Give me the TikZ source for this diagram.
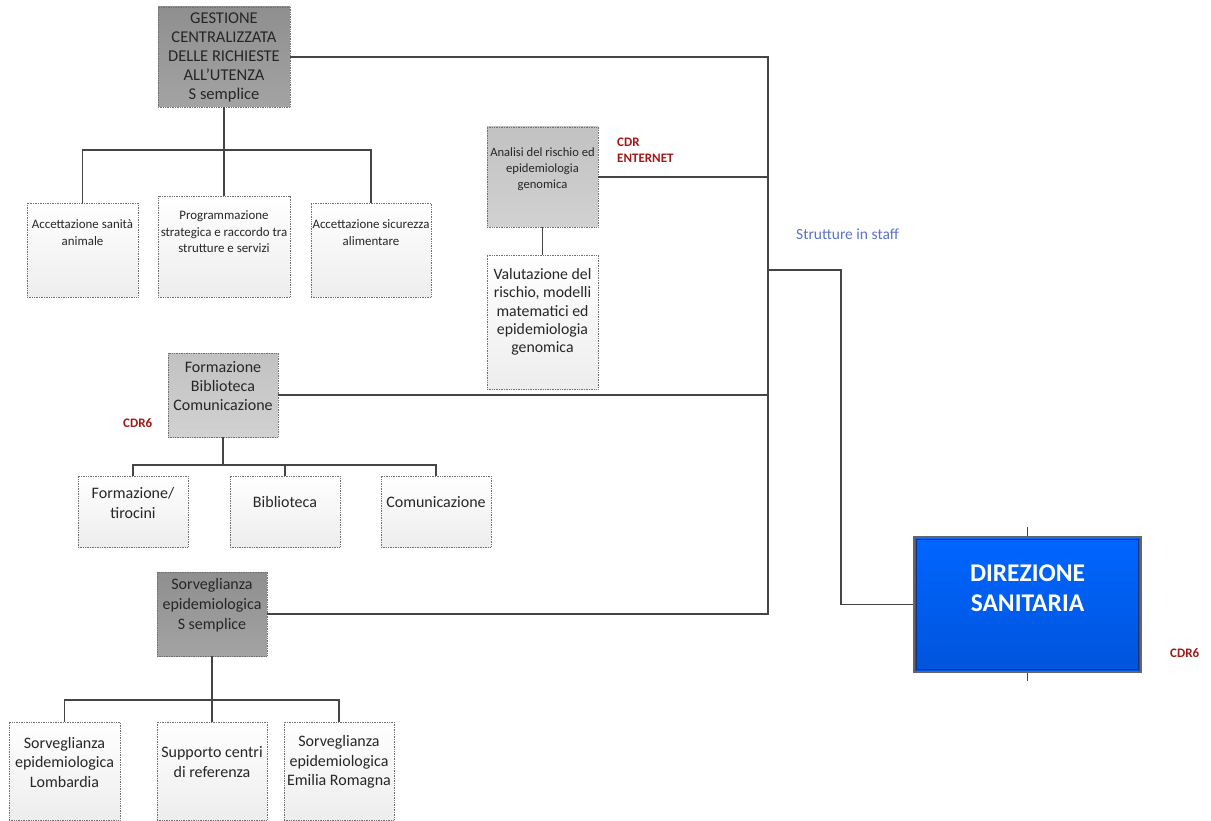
\documentclass[tikz,border=0pt]{standalone}
\usepackage{fontspec}
\setmainfont{Carlito}
\usetikzlibrary{calc}
\definecolor{conn}{HTML}{454545}
\definecolor{cdr}{HTML}{A01818}
\definecolor{staff}{HTML}{5B72C8}
\definecolor{bordo}{HTML}{707070}
\definecolor{dirtop}{HTML}{0066FF}
\definecolor{dirbot}{HTML}{0054DC}
\definecolor{dirin}{HTML}{143282}
\tikzset{
  conn/.style={draw=conn, line width=1.6pt},
  boxbase/.style={draw=bordo, densely dotted, line width=0.7pt, rectangle, inner sep=0pt},
  darkbox/.style={boxbase, top color=black!44, bottom color=black!36},
  lightbox/.style={boxbase, top color=black!24, bottom color=black!18},
  childbox/.style={boxbase, top color=white, bottom color=black!7},
  txt/.style={align=center, text=black!85, inner sep=0pt},
  cdrtxt/.style={text=cdr, font=\fontsize{13}{16}\selectfont\bfseries, align=left, inner sep=0pt},
}
\begin{document}
\begin{tikzpicture}[x=1pt,y=-1pt]
\useasboundingbox (0,0) rectangle (1211,821);

% ---- boxes
\node[darkbox, minimum width=132pt, minimum height=100pt] (g) at (224,57) {};
\node[txt, font=\fontsize{16.5}{19}\selectfont] (gt) at (224,57) {GESTIONE\\CENTRALIZZATA\\DELLE RICHIESTE\\ALL’UTENZA\\S semplice};

\node[childbox, minimum width=111pt, minimum height=94pt] (c1) at (82.5,250) {};
\node[txt, font=\fontsize{12.9}{17}\selectfont] (c1t) at (82.5,233) {Accettazione sanità\\animale};
\node[childbox, minimum width=132pt, minimum height=101pt] (c2) at (224,246.5) {};
\node[txt, font=\fontsize{12.9}{16.5}\selectfont] (c2t) at (224,232) {Programmazione\\strategica e raccordo tra\\strutture e servizi};
\node[childbox, minimum width=120pt, minimum height=94pt] (c3) at (371,250) {};
\node[txt, font=\fontsize{12.9}{17}\selectfont] (c3t) at (371,233) {Accettazione sicurezza\\alimentare};

\node[lightbox, minimum width=111pt, minimum height=100pt] (a) at (542.5,177) {};
\node[txt, font=\fontsize{12.6}{16}\selectfont] (at) at (542.5,169) {Analisi del rischio ed\\epidemiologia\\genomica};
\node[childbox, minimum width=111pt, minimum height=134pt] (v) at (542.5,322) {};
\node[txt, font=\fontsize{15.8}{18.3}\selectfont] (vt) at (542.5,312) {Valutazione del\\rischio, modelli\\matematici ed\\epidemiologia\\genomica};

\node[lightbox, minimum width=110pt, minimum height=84pt] (f) at (223,395) {};
\node[txt, font=\fontsize{16}{19}\selectfont] (ft) at (223,386) {Formazione\\Biblioteca\\Comunicazione};
\node[childbox, minimum width=110pt, minimum height=71pt] (f1) at (133,511.5) {};
\node[txt, font=\fontsize{16}{20}\selectfont] (f1t) at (133,503) {Formazione/\\tirocini};
\node[childbox, minimum width=110pt, minimum height=71pt] (f2) at (285,511.5) {};
\node[txt, font=\fontsize{16}{20}\selectfont] (f2t) at (285,502) {Biblioteca};
\node[childbox, minimum width=110pt, minimum height=71pt] (f3) at (436,511.5) {};
\node[txt, font=\fontsize{16}{20}\selectfont] (f3t) at (436,502) {Comunicazione};

\node[darkbox, minimum width=110pt, minimum height=84pt] (s) at (212,614) {};
\node[txt, font=\fontsize{16}{20}\selectfont] (st) at (212,605) {Sorveglianza\\epidemiologica\\S semplice};
\node[childbox, minimum width=111pt, minimum height=98pt] (s1) at (64.5,771) {};
\node[txt, font=\fontsize{16}{19.5}\selectfont] (s1t) at (64.5,762) {Sorveglianza\\epidemiologica\\Lombardia};
\node[childbox, minimum width=110pt, minimum height=98pt] (s2) at (212,771) {};
\node[txt, font=\fontsize{16}{19.5}\selectfont] (s2t) at (212,762) {Supporto centri\\di referenza};
\node[childbox, minimum width=110pt, minimum height=98pt] (s3) at (339,771) {};
\node[txt, font=\fontsize{16}{19.5}\selectfont] (s3t) at (339,762) {Sorveglianza\\epidemiologica\\Emilia Romagna};

\node[rectangle, draw=black!60, line width=1.2pt, minimum width=227pt, minimum height=135pt,
      top color=dirtop, bottom color=dirbot] (d) at (1027.5,604.5) {};
\draw[draw=dirin, line width=0.8pt] ($(d.north west)+(3,3)$) rectangle ($(d.south east)+(-3,-3)$);
\node[txt, text=white, font=\fontsize{25.5}{30}\selectfont\bfseries] (dt) at (1027.5,588) {DIREZIONE\\SANITARIA};

% ---- labels
\node[cdrtxt, anchor=west] (l1) at (617,150) {CDR\\ENTERNET};
\node[cdrtxt, anchor=west] (l2) at (123,423) {CDR6};
\node[cdrtxt, anchor=west] (l3) at (1170,653) {CDR6};
\node[anchor=west, text=staff, font=\fontsize{15.5}{18}\selectfont, inner sep=0pt] (l4) at (796,234) {Strutture in staff};

% ---- staff bus
\coordinate (b1) at (768,57);
\coordinate (b4) at (768,614);
\coordinate (bj) at (768,270);
\coordinate (bk) at (841,270);
\draw[conn] (g.east) -- (b1) -- (b4) -- (s.east);
\draw[conn] (a.east) -- (a.east -| b1);
\draw[conn] (f.east) -- (f.east -| b1);
\draw[conn] (bj) -- (bk) |- (d.west);
\draw[conn, line width=1pt] (d.north) -- ++(0,-9);
\draw[conn, line width=1pt] (d.south) -- ++(0,8);

% ---- trees
\coordinate (gj) at (224,150);
\draw[conn] (g.south) -- (gj);
\draw[conn] (c1.north) -- (c1.north |- gj) -- (c3.north |- gj) -- (c3.north);
\draw[conn] (gj) -- (c2.north);

\draw[conn] (a.south) -- (v.north);

\coordinate (fj) at (223,465);
\draw[conn] (f.south) -- (fj);
\draw[conn] (f1.north) -- (f1.north |- fj) -- (f3.north |- fj) -- (f3.north);
\draw[conn] (f2.north) -- (f2.north |- fj);

\coordinate (sj) at (212,700);
\draw[conn] (s.south) -- (sj);
\draw[conn] (s1.north) -- (s1.north |- sj) -- (s3.north |- sj) -- (s3.north);
\draw[conn] (sj) -- (s2.north);
\end{tikzpicture}
\end{document}
